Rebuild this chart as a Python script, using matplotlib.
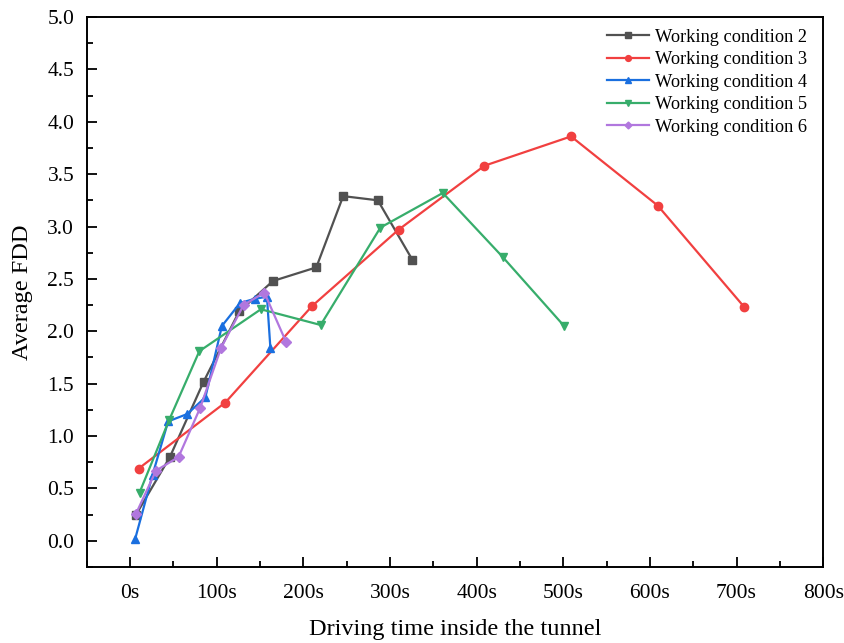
import matplotlib
matplotlib.use('Agg')
import matplotlib.pyplot as plt
from matplotlib.ticker import MultipleLocator, FuncFormatter

plt.rcParams['font.family'] = 'Liberation Serif'

# Working condition 2
t2 = [7, 46, 85, 126, 165, 215, 246, 286, 326]
f2 = [0.25, 0.80, 1.52, 2.19, 2.48, 2.61, 3.29, 3.25, 2.68]
# Working condition 3
t3 = [10, 110, 210, 310, 409, 509, 609, 709]
f3 = [0.69, 1.32, 2.24, 2.97, 3.58, 3.86, 3.20, 2.23]
# Working condition 4
t4 = [6, 26, 44, 66, 87, 106, 127, 144, 158, 162]
f4 = [0.02, 0.63, 1.14, 1.21, 1.37, 2.05, 2.27, 2.31, 2.33, 1.84]
# Working condition 5
t5 = [11, 45, 80, 151, 220, 289, 361, 430, 501]
f5 = [0.46, 1.15, 1.81, 2.21, 2.06, 2.99, 3.32, 2.71, 2.05]
# Working condition 6
t6 = [7, 30, 56, 81, 105, 131, 155, 180]
f6 = [0.26, 0.67, 0.80, 1.27, 1.84, 2.25, 2.37, 1.90]

series = [
    (t2, f2, 'Working condition 2', '#515151', 's'),
    (t3, f3, 'Working condition 3', '#F14040', 'o'),
    (t4, f4, 'Working condition 4', '#1A6FDF', '^'),
    (t5, f5, 'Working condition 5', '#37AD6B', 'v'),
    (t6, f6, 'Working condition 6', '#B177DE', 'D'),
]

fig = plt.figure(figsize=(8.45, 6.43), dpi=100)
ax = fig.add_axes([0.1026, 0.1182, 0.8716, 0.8554])

for t, f, lab, col, mk in series:
    ms = 5 if mk == 'D' else 6
    ax.plot(t, f, color=col, marker=mk, markersize=ms, linewidth=1.6, label=lab)

ax.set_xlim(-50, 800)
ax.set_ylim(-0.25, 5.0)
ax.xaxis.set_major_locator(MultipleLocator(100))
ax.xaxis.set_minor_locator(MultipleLocator(50))
ax.yaxis.set_major_locator(MultipleLocator(0.5))
ax.yaxis.set_minor_locator(MultipleLocator(0.25))
ax.xaxis.set_major_formatter(FuncFormatter(lambda v, p: f'{int(v)}s'))
ax.yaxis.set_major_formatter(FuncFormatter(lambda v, p: f'{v:.1f}'))

ax.tick_params(which='major', direction='in', length=7, width=1.3, labelsize=15.5, pad=12)
ax.tick_params(which='minor', direction='in', length=4, width=1.3)
ax.tick_params(axis='y', pad=9)
for s in ax.spines.values():
    s.set_linewidth(1.4)

ax.set_xlabel('Driving time inside the tunnel', fontsize=17.5, labelpad=12)
ax.set_ylabel('Average FDD', fontsize=17.5, labelpad=10)

# no frame: the top and right spines close the legend box in the reference
ax.legend(loc='upper right', bbox_to_anchor=(0.978, 0.979), borderaxespad=0,
          borderpad=0, fontsize=13.2, frameon=False, handlelength=2.3,
          handletextpad=0.3, labelspacing=0.3, markerscale=0.7)

fig.savefig('out.png', dpi=100)
